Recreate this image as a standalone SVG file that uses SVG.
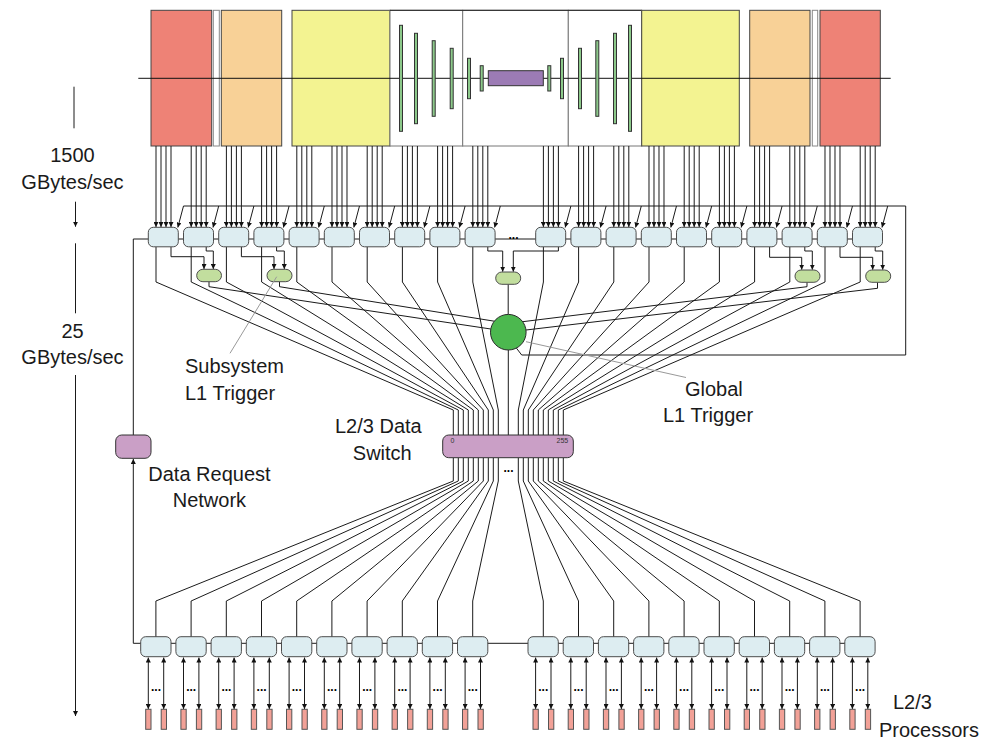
<svg xmlns="http://www.w3.org/2000/svg" xmlns:xlink="http://www.w3.org/1999/xlink" width="996" height="741" viewBox="0 0 996 741">
  <style>
    .ln { fill: none; stroke: #1a1a1a; stroke-width: 1; }
    .ar { marker-end: url(#ah); }
    .ar2 { marker-start: url(#ah); marker-end: url(#ah); }
    .lead { fill: none; stroke: #999; stroke-width: 1; }
    .det { stroke: #444; stroke-width: 1; }
    .gap { fill: #fff; stroke: #888; stroke-width: 1; }
    .bar { fill: #8CC98A; stroke: #333; stroke-width: 1; }
    .fe { fill: #DDEDF1; stroke: #4d4d4d; stroke-width: 1; }
    .tr { fill: #C2DE9E; stroke: #4d4d4d; stroke-width: 1; }
    .pr { fill: #F2A197; stroke: #555; stroke-width: 1; }
    .pu { fill: #CA9FC6; stroke: #333; stroke-width: 1; }
    .lbl { font-family: "Liberation Sans", Arial, sans-serif; font-size: 20px; fill: #1a1a1a; }
    .dots { font-family: "Liberation Sans", Arial, sans-serif; font-size: 12px; font-weight: bold; fill: #000; text-anchor: middle; }
    .tiny { font-family: "Liberation Sans", Arial, sans-serif; font-size: 7px; fill: #333; }
  </style>
  <defs>
    <marker id="ah" viewBox="0 0 6 6" refX="6" refY="3" markerWidth="5" markerHeight="5" markerUnits="userSpaceOnUse" orient="auto-start-reverse">
      <path d="M0,0 L6,3 L0,6 z" fill="#111"/>
    </marker>
    <!-- four readout links from the detector plus the trigger-decision link into a front-end buffer -->
    <g id="feIn" class="ln ar">
      <line x1="7.7" y1="146" x2="7.7" y2="227"/>
      <line x1="12.7" y1="146" x2="12.7" y2="227"/>
      <line x1="17.7" y1="146" x2="17.7" y2="227"/>
      <line x1="22.7" y1="146" x2="22.7" y2="227"/>
      <line x1="35.2" y1="206" x2="29.5" y2="227.5"/>
    </g>
    <!-- bidirectional links between an event buffer and its processors -->
    <g id="prIO">
      <line class="ln ar2" x1="7.6" y1="657.5" x2="7.6" y2="709"/>
      <line class="ln ar2" x1="23" y1="657.5" x2="23" y2="709"/>
      <text class="dots" x="15.3" y="690.5">...</text>
    </g>
  </defs>

  <!-- detector cross-section -->
  <g id="detector">
    <rect class="det" x="151" y="10.3" width="60.7" height="135.7" fill="#EE8276"/>
    <rect class="gap" x="213.3" y="10.3" width="6" height="135.7"/>
    <rect class="det" x="221.3" y="10.3" width="60.4" height="135.7" fill="#F8D197"/>
    <rect class="det" x="292" y="10.3" width="98" height="135.7" fill="#F3F391"/>
    <rect x="390" y="10.3" width="72.7" height="135.7" fill="#fff" stroke="#777"/>
    <rect x="462.7" y="10.3" width="105.6" height="135.7" fill="#fff" stroke="#777"/>
    <rect x="568.3" y="10.3" width="73.4" height="135.7" fill="#fff" stroke="#777"/>
    <line x1="390" y1="10.3" x2="641.7" y2="10.3" stroke="#222"/>
    <rect class="det" x="641.7" y="10.3" width="97.6" height="135.7" fill="#F3F391"/>
    <rect class="det" x="749.7" y="10.3" width="60.3" height="135.7" fill="#F8D197"/>
    <rect class="gap" x="812.3" y="10.3" width="5.4" height="135.7"/>
    <rect class="det" x="820" y="10.3" width="60.3" height="135.7" fill="#EE8276"/>
    <line x1="138.3" y1="78.3" x2="890.7" y2="78.3" stroke="#111"/>
    <rect class="bar" x="399.5" y="25.3" width="3" height="106"/>
    <rect class="bar" x="414.5" y="33.3" width="3" height="90.4"/>
    <rect class="bar" x="432.2" y="40.7" width="3" height="75.6"/>
    <rect class="bar" x="450.2" y="48.3" width="3" height="60.4"/>
    <rect class="bar" x="467.5" y="58.3" width="3" height="40.4"/>
    <rect class="bar" x="480.2" y="65.7" width="3" height="25.3"/>
    <rect class="bar" x="547.8" y="65.7" width="3" height="25.3"/>
    <rect class="bar" x="560.5" y="58.3" width="3" height="40.4"/>
    <rect class="bar" x="578.5" y="48.3" width="3" height="60.4"/>
    <rect class="bar" x="595.8" y="40.7" width="3" height="75.6"/>
    <rect class="bar" x="613.5" y="33.3" width="3" height="90.4"/>
    <rect class="bar" x="628.5" y="25.3" width="3" height="106"/>
    <rect x="488.3" y="70.7" width="55" height="15" fill="#9C7BB5" stroke="#333"/>
  </g>

  <!-- rate scale on the left -->
  <g id="rate-scale" class="ln">
    <line x1="74" y1="86.7" x2="74" y2="128.3"/>
    <line class="ar" x1="75.5" y1="201.7" x2="75.5" y2="226.7"/>
    <line x1="75.5" y1="243.3" x2="75.5" y2="313.3"/>
    <line class="ar" x1="75.5" y1="375" x2="75.5" y2="716"/>
  </g>

  <g id="connectors">
    <!-- readout links -->
    <use xlink:href="#feIn" x="148.3"/>
    <use xlink:href="#feIn" x="183.5"/>
    <use xlink:href="#feIn" x="218.7"/>
    <use xlink:href="#feIn" x="253.9"/>
    <use xlink:href="#feIn" x="289.1"/>
    <use xlink:href="#feIn" x="324.3"/>
    <use xlink:href="#feIn" x="359.5"/>
    <use xlink:href="#feIn" x="394.7"/>
    <use xlink:href="#feIn" x="429.9"/>
    <use xlink:href="#feIn" x="465.1"/>
    <use xlink:href="#feIn" x="535.7"/>
    <use xlink:href="#feIn" x="570.9"/>
    <use xlink:href="#feIn" x="606.1"/>
    <use xlink:href="#feIn" x="641.3"/>
    <use xlink:href="#feIn" x="676.5"/>
    <use xlink:href="#feIn" x="711.7"/>
    <use xlink:href="#feIn" x="746.9"/>
    <use xlink:href="#feIn" x="782.1"/>
    <use xlink:href="#feIn" x="817.3"/>
    <use xlink:href="#feIn" x="852.5"/>

    <!-- global trigger distribution bus -->
    <path class="ln" d="M516.4,348.1 L521.7,355 H905.7 V206 H183.5"/>

    <!-- data request chain through the front-end buffers -->
    <path class="ln" d="M870,239 H133.3 V435"/>
    <path class="ln ar" d="M860,643.3 H133.3 V459"/>

    <!-- front-end to subsystem trigger links -->
    <path class="ln ar" d="M171,247 V256.7 H204 V269"/>
    <path class="ln ar" d="M206.2,247 V251 H213.3 V269"/>
    <path class="ln ar" d="M241.4,247 V256.7 H274 V269"/>
    <path class="ln ar" d="M276.6,247 V251 H284.3 V269"/>
    <path class="ln ar" d="M487.8,247 V251 H502.7 V271.7"/>
    <path class="ln ar" d="M558.4,247 V251 H513.3 V271.7"/>
    <path class="ln ar" d="M769.6,247 V257.3 H801.7 V269.7"/>
    <path class="ln ar" d="M804.8,247 V251 H812.3 V269.7"/>
    <path class="ln ar" d="M840,247 V257.3 H872.7 V269.7"/>
    <path class="ln ar" d="M875.2,247 V251 H882.7 V269.7"/>

    <!-- subsystem triggers to global trigger -->
    <path class="ln" d="M209,281.7 V286.7 L490.8,329"/>
    <path class="ln" d="M279.5,281.7 V286.7 L494.3,321.2"/>
    <path class="ln" d="M807,282.3 V286.7 L522.7,321.7"/>
    <path class="ln" d="M877.5,282.3 V288.3 L526,330"/>
    <path class="ln" d="M508.2,284.3 V314.4 M508.3,350 V435"/>

    <!-- front-end buffers into the switch -->
    <path class="ln" d="M156,247V282L453.3,410V435 M191.2,247V282L458.3,410V435 M226.4,247V282L463.3,410V435 M261.6,247V282L468.3,410V435 M296.8,247V282L473.3,410V435 M332,247V282L478.3,410V435 M367.2,247V282L483.3,410V435 M402.4,247V282L488.3,410V435 M437.6,247V282L493.3,410V435 M472.8,247V282L498.3,410V435"/>
    <path class="ln" d="M543.4,247V282L518.3,410V435 M578.6,247V282L523.3,410V435 M613.8,247V282L528.3,410V435 M649,247V282L533.3,410V435 M684.2,247V282L538.3,410V435 M719.4,247V282L543.3,410V435 M754.6,247V282L548.3,410V435 M789.8,247V282L553.3,410V435 M825,247V282L558.3,410V435 M860.2,247V282L563.3,410V435"/>

    <!-- switch out to the event buffers -->
    <path class="ln" d="M453.3,458V481L155.9,601V637 M458.3,458V481L191.1,601V637 M463.3,458V481L226.3,601V637 M468.3,458V481L261.5,601V637 M473.3,458V481L296.7,601V637 M478.3,458V481L331.9,601V637 M483.3,458V481L367.1,601V637 M488.3,458V481L402.3,601V637 M493.3,458V481L437.5,601V637 M498.3,458V481L472.7,601V637"/>
    <path class="ln" d="M518.3,458V481L543.3,601V637 M523.3,458V481L578.5,601V637 M528.3,458V481L613.7,601V637 M533.3,458V481L648.9,601V637 M538.3,458V481L684.1,601V637 M543.3,458V481L719.3,601V637 M548.3,458V481L754.5,601V637 M553.3,458V481L789.7,601V637 M558.3,458V481L824.9,601V637 M563.3,458V481L860.1,601V637"/>

    <!-- event buffers to processors -->
    <use xlink:href="#prIO" x="140.7"/>
    <use xlink:href="#prIO" x="175.9"/>
    <use xlink:href="#prIO" x="211.1"/>
    <use xlink:href="#prIO" x="246.3"/>
    <use xlink:href="#prIO" x="281.5"/>
    <use xlink:href="#prIO" x="316.7"/>
    <use xlink:href="#prIO" x="351.9"/>
    <use xlink:href="#prIO" x="387.1"/>
    <use xlink:href="#prIO" x="422.3"/>
    <use xlink:href="#prIO" x="457.5"/>
    <use xlink:href="#prIO" x="528"/>
    <use xlink:href="#prIO" x="563.2"/>
    <use xlink:href="#prIO" x="598.4"/>
    <use xlink:href="#prIO" x="633.6"/>
    <use xlink:href="#prIO" x="668.8"/>
    <use xlink:href="#prIO" x="704"/>
    <use xlink:href="#prIO" x="739.2"/>
    <use xlink:href="#prIO" x="774.4"/>
    <use xlink:href="#prIO" x="809.6"/>
    <use xlink:href="#prIO" x="844.8"/>
  </g>

  <!-- front-end buffers -->
  <g id="fe-L01"><rect class="fe" x="148.3" y="227.3" width="30" height="19.5" rx="5"/></g>
  <g id="fe-L02"><rect class="fe" x="183.5" y="227.3" width="30" height="19.5" rx="5"/></g>
  <g id="fe-L03"><rect class="fe" x="218.7" y="227.3" width="30" height="19.5" rx="5"/></g>
  <g id="fe-L04"><rect class="fe" x="253.9" y="227.3" width="30" height="19.5" rx="5"/></g>
  <g id="fe-L05"><rect class="fe" x="289.1" y="227.3" width="30" height="19.5" rx="5"/></g>
  <g id="fe-L06"><rect class="fe" x="324.3" y="227.3" width="30" height="19.5" rx="5"/></g>
  <g id="fe-L07"><rect class="fe" x="359.5" y="227.3" width="30" height="19.5" rx="5"/></g>
  <g id="fe-L08"><rect class="fe" x="394.7" y="227.3" width="30" height="19.5" rx="5"/></g>
  <g id="fe-L09"><rect class="fe" x="429.9" y="227.3" width="30" height="19.5" rx="5"/></g>
  <g id="fe-L10"><rect class="fe" x="465.1" y="227.3" width="30" height="19.5" rx="5"/></g>
  <g id="fe-gap"><text class="dots" x="513.5" y="238.5">...</text></g>
  <g id="fe-R01"><rect class="fe" x="535.7" y="227.3" width="30" height="19.5" rx="5"/></g>
  <g id="fe-R02"><rect class="fe" x="570.9" y="227.3" width="30" height="19.5" rx="5"/></g>
  <g id="fe-R03"><rect class="fe" x="606.1" y="227.3" width="30" height="19.5" rx="5"/></g>
  <g id="fe-R04"><rect class="fe" x="641.3" y="227.3" width="30" height="19.5" rx="5"/></g>
  <g id="fe-R05"><rect class="fe" x="676.5" y="227.3" width="30" height="19.5" rx="5"/></g>
  <g id="fe-R06"><rect class="fe" x="711.7" y="227.3" width="30" height="19.5" rx="5"/></g>
  <g id="fe-R07"><rect class="fe" x="746.9" y="227.3" width="30" height="19.5" rx="5"/></g>
  <g id="fe-R08"><rect class="fe" x="782.1" y="227.3" width="30" height="19.5" rx="5"/></g>
  <g id="fe-R09"><rect class="fe" x="817.3" y="227.3" width="30" height="19.5" rx="5"/></g>
  <g id="fe-R10"><rect class="fe" x="852.5" y="227.3" width="30" height="19.5" rx="5"/></g>

  <!-- subsystem L1 triggers -->
  <g id="l1-sub-1"><rect class="tr" x="196.7" y="269.3" width="24.8" height="12.4" rx="6.2"/></g>
  <g id="l1-sub-2"><rect class="tr" x="267" y="269.3" width="25" height="12.4" rx="6.2"/></g>
  <g id="l1-sub-3"><rect class="tr" x="495.7" y="272" width="25" height="12.3" rx="6.1"/></g>
  <g id="l1-sub-4"><rect class="tr" x="795" y="270" width="25" height="12.3" rx="6.1"/></g>
  <g id="l1-sub-5"><rect class="tr" x="865.7" y="270" width="25" height="12.3" rx="6.1"/></g>

  <!-- global L1 trigger -->
  <g id="l1-global"><circle cx="508.3" cy="332.2" r="17.8" fill="#4CB84F" stroke="#2a2a2a"/></g>

  <!-- L2/3 data switch -->
  <g id="switch">
    <rect class="pu" x="442.7" y="435" width="130.6" height="22.7" rx="6"/>
    <text class="tiny" x="450.5" y="442.5">0</text>
    <text class="tiny" x="556.5" y="442.5">255</text>
    <text class="dots" x="508.5" y="472">...</text>
  </g>

  <!-- data request network -->
  <g id="data-request"><rect class="pu" x="115.7" y="435" width="35.3" height="23.3" rx="6"/></g>

  <!-- event buffers -->
  <g id="eb-L01"><rect class="fe" x="140.7" y="636.7" width="30.3" height="20" rx="5"/></g>
  <g id="eb-L02"><rect class="fe" x="175.9" y="636.7" width="30.3" height="20" rx="5"/></g>
  <g id="eb-L03"><rect class="fe" x="211.1" y="636.7" width="30.3" height="20" rx="5"/></g>
  <g id="eb-L04"><rect class="fe" x="246.3" y="636.7" width="30.3" height="20" rx="5"/></g>
  <g id="eb-L05"><rect class="fe" x="281.5" y="636.7" width="30.3" height="20" rx="5"/></g>
  <g id="eb-L06"><rect class="fe" x="316.7" y="636.7" width="30.3" height="20" rx="5"/></g>
  <g id="eb-L07"><rect class="fe" x="351.9" y="636.7" width="30.3" height="20" rx="5"/></g>
  <g id="eb-L08"><rect class="fe" x="387.1" y="636.7" width="30.3" height="20" rx="5"/></g>
  <g id="eb-L09"><rect class="fe" x="422.3" y="636.7" width="30.3" height="20" rx="5"/></g>
  <g id="eb-L10"><rect class="fe" x="457.5" y="636.7" width="30.3" height="20" rx="5"/></g>
  <g id="eb-R01"><rect class="fe" x="528" y="636.7" width="30.3" height="20" rx="5"/></g>
  <g id="eb-R02"><rect class="fe" x="563.2" y="636.7" width="30.3" height="20" rx="5"/></g>
  <g id="eb-R03"><rect class="fe" x="598.4" y="636.7" width="30.3" height="20" rx="5"/></g>
  <g id="eb-R04"><rect class="fe" x="633.6" y="636.7" width="30.3" height="20" rx="5"/></g>
  <g id="eb-R05"><rect class="fe" x="668.8" y="636.7" width="30.3" height="20" rx="5"/></g>
  <g id="eb-R06"><rect class="fe" x="704" y="636.7" width="30.3" height="20" rx="5"/></g>
  <g id="eb-R07"><rect class="fe" x="739.2" y="636.7" width="30.3" height="20" rx="5"/></g>
  <g id="eb-R08"><rect class="fe" x="774.4" y="636.7" width="30.3" height="20" rx="5"/></g>
  <g id="eb-R09"><rect class="fe" x="809.6" y="636.7" width="30.3" height="20" rx="5"/></g>
  <g id="eb-R10"><rect class="fe" x="844.8" y="636.7" width="30.3" height="20" rx="5"/></g>

  <!-- L2/3 processors, two per event buffer -->
  <g id="proc-L01"><rect class="pr" x="145.7" y="709.3" width="5.3" height="20"/><rect class="pr" x="161.2" y="709.3" width="5.3" height="20"/></g>
  <g id="proc-L02"><rect class="pr" x="180.9" y="709.3" width="5.3" height="20"/><rect class="pr" x="196.4" y="709.3" width="5.3" height="20"/></g>
  <g id="proc-L03"><rect class="pr" x="216.1" y="709.3" width="5.3" height="20"/><rect class="pr" x="231.6" y="709.3" width="5.3" height="20"/></g>
  <g id="proc-L04"><rect class="pr" x="251.3" y="709.3" width="5.3" height="20"/><rect class="pr" x="266.8" y="709.3" width="5.3" height="20"/></g>
  <g id="proc-L05"><rect class="pr" x="286.5" y="709.3" width="5.3" height="20"/><rect class="pr" x="302" y="709.3" width="5.3" height="20"/></g>
  <g id="proc-L06"><rect class="pr" x="321.7" y="709.3" width="5.3" height="20"/><rect class="pr" x="337.2" y="709.3" width="5.3" height="20"/></g>
  <g id="proc-L07"><rect class="pr" x="356.9" y="709.3" width="5.3" height="20"/><rect class="pr" x="372.4" y="709.3" width="5.3" height="20"/></g>
  <g id="proc-L08"><rect class="pr" x="392.1" y="709.3" width="5.3" height="20"/><rect class="pr" x="407.6" y="709.3" width="5.3" height="20"/></g>
  <g id="proc-L09"><rect class="pr" x="427.3" y="709.3" width="5.3" height="20"/><rect class="pr" x="442.8" y="709.3" width="5.3" height="20"/></g>
  <g id="proc-L10"><rect class="pr" x="462.5" y="709.3" width="5.3" height="20"/><rect class="pr" x="478" y="709.3" width="5.3" height="20"/></g>
  <g id="proc-R01"><rect class="pr" x="533" y="709.3" width="5.3" height="20"/><rect class="pr" x="548.5" y="709.3" width="5.3" height="20"/></g>
  <g id="proc-R02"><rect class="pr" x="568.2" y="709.3" width="5.3" height="20"/><rect class="pr" x="583.7" y="709.3" width="5.3" height="20"/></g>
  <g id="proc-R03"><rect class="pr" x="603.4" y="709.3" width="5.3" height="20"/><rect class="pr" x="618.9" y="709.3" width="5.3" height="20"/></g>
  <g id="proc-R04"><rect class="pr" x="638.6" y="709.3" width="5.3" height="20"/><rect class="pr" x="654.1" y="709.3" width="5.3" height="20"/></g>
  <g id="proc-R05"><rect class="pr" x="673.8" y="709.3" width="5.3" height="20"/><rect class="pr" x="689.3" y="709.3" width="5.3" height="20"/></g>
  <g id="proc-R06"><rect class="pr" x="709" y="709.3" width="5.3" height="20"/><rect class="pr" x="724.5" y="709.3" width="5.3" height="20"/></g>
  <g id="proc-R07"><rect class="pr" x="744.2" y="709.3" width="5.3" height="20"/><rect class="pr" x="759.7" y="709.3" width="5.3" height="20"/></g>
  <g id="proc-R08"><rect class="pr" x="779.4" y="709.3" width="5.3" height="20"/><rect class="pr" x="794.9" y="709.3" width="5.3" height="20"/></g>
  <g id="proc-R09"><rect class="pr" x="814.6" y="709.3" width="5.3" height="20"/><rect class="pr" x="830.1" y="709.3" width="5.3" height="20"/></g>
  <g id="proc-R10"><rect class="pr" x="849.8" y="709.3" width="5.3" height="20"/><rect class="pr" x="865.3" y="709.3" width="5.3" height="20"/></g>

  <!-- labels and their leader lines -->
  <g id="labels">
    <line class="lead" x1="276.7" y1="276.7" x2="230" y2="353.3"/>
    <line class="lead" x1="526" y1="341.7" x2="686" y2="377.5"/>
    <text class="lbl" x="72.5" y="161.5" text-anchor="middle">1500</text>
    <text class="lbl" x="72.5" y="189" text-anchor="middle">GBytes/sec</text>
    <text class="lbl" x="72.5" y="338.3" text-anchor="middle">25</text>
    <text class="lbl" x="72.5" y="364" text-anchor="middle">GBytes/sec</text>
    <text class="lbl" x="185" y="373">Subsystem</text>
    <text class="lbl" x="185" y="399.5">L1 Trigger</text>
    <text class="lbl" x="685" y="396">Global</text>
    <text class="lbl" x="663" y="422">L1 Trigger</text>
    <text class="lbl" x="335" y="433">L2/3 Data</text>
    <text class="lbl" x="352.8" y="460">Switch</text>
    <text class="lbl" x="148.3" y="481">Data Request</text>
    <text class="lbl" x="172.7" y="506.5">Network</text>
    <text class="lbl" x="893" y="709">L2/3</text>
    <text class="lbl" x="879" y="737">Processors</text>
  </g>
</svg>
